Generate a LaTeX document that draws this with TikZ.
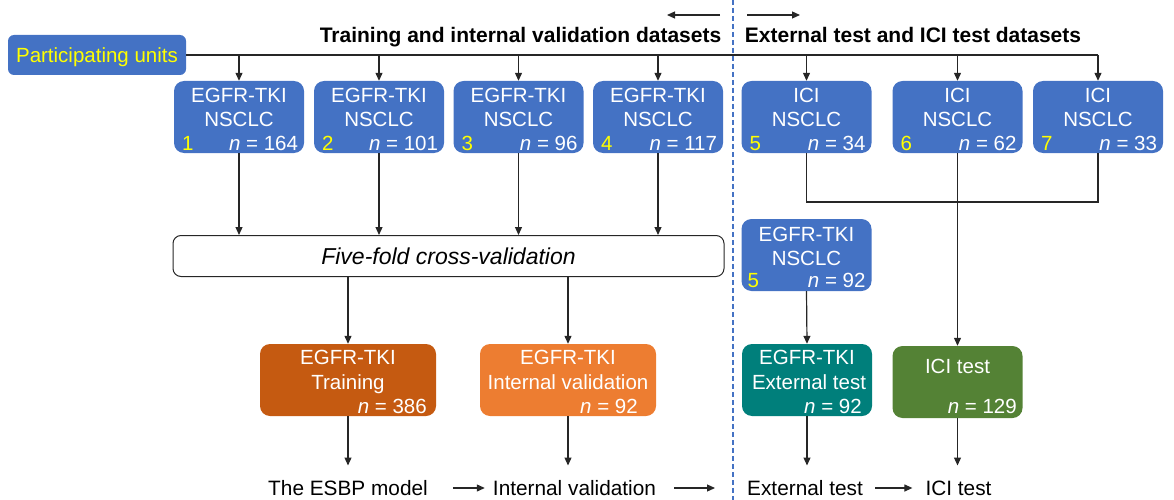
\documentclass[tikz,border=0pt]{standalone}
\usepackage{fontspec}
\setmainfont{Liberation Sans}
\usetikzlibrary{arrows.meta,calc}
\definecolor{unitblue}{HTML}{4472C4}
\definecolor{trainorange}{HTML}{C55A11}
\definecolor{valorange}{HTML}{ED7D31}
\definecolor{extteal}{HTML}{007F7B}
\definecolor{icigreen}{HTML}{548235}
\definecolor{numyellow}{HTML}{FFFF00}
\definecolor{linegray}{HTML}{262626}

\begin{document}
\begin{tikzpicture}[x=1pt,y=-1pt,
  box/.style={rounded corners=10pt, minimum width=130pt, minimum height=72pt, inner sep=0pt, draw=none},
  txt/.style={font=\fontsize{20.5}{24}\selectfont, text=white, inner sep=0pt, text height=14.6pt, text depth=0pt},
  numtxt/.style={txt, text=numyellow, anchor=west},
  ntxt/.style={txt, anchor=east},
  plaintxt/.style={txt, font=\fontsize{20.8}{24}\selectfont, text=black, inner xsep=0pt},
  title/.style={font=\fontsize{21}{25}\selectfont\bfseries, inner sep=0pt, text height=15pt, text depth=0pt},
  conn/.style={draw=linegray, line width=1.2pt},
  arr/.style={conn, -{Triangle[length=8pt,width=7pt]}},
  divider/.style={draw=unitblue, line width=1.4pt, dash pattern=on 5pt off 3pt}
]
\useasboundingbox (0,0) rectangle (1174,500);

% headings and direction arrows
\node[title] (tleft) at (520.5,35) {Training and internal validation datasets};
\node[title] (tright) at (913,35) {External test and ICI test datasets};
\coordinate (dirL0) at (720,15);
\coordinate (dirL1) at (667,15);
\coordinate (dirR0) at (747,15);
\coordinate (dirR1) at (800,15);
\draw[arr] (dirL0) -- (dirL1);
\draw[arr] (dirR0) -- (dirR1);

% vertical divider
\coordinate (divTop) at (733,0);
\coordinate (divBot) at (733,500);
\draw[divider] (divTop) -- (divBot);

% participating units
\node[box, fill=unitblue, minimum width=178pt, minimum height=40pt, rounded corners=6pt,
      font=\fontsize{20.5}{24}\selectfont, text=numyellow, text height=14.6pt, text depth=0pt]
      (part) at (97,55) {Participating units};

% data sources
\foreach \i/\cx/\kind/\nv in {1/239/EGFR-TKI/164, 2/379/EGFR-TKI/101, 3/518.5/EGFR-TKI/96,
    4/658/EGFR-TKI/117, 5/806.5/ICI/34, 6/957.5/ICI/62, 7/1098/ICI/33} {
  \node[box, fill=unitblue] (u\i) at (\cx,117) {};
  \node[txt] (u\i-a) at (\cx,95) {\kind};
  \node[txt] (u\i-b) at (\cx,119) {NSCLC};
  \node[ntxt] (u\i-n) at ($(u\i.east)+(-6,26)$) {\textit{n} = \nv};
  \node[numtxt] (u\i-k) at ($(u\i.west)+(8,26)$) {\i};
}

\draw[conn] (part.east) -- (part.east -| u7.north);
\foreach \i in {1,...,7} {
  \draw[arr] (part.east -| u\i.north) -- (u\i.north);
}

% cross-validation
\node[draw=linegray, line width=1pt, rounded corners=8pt, minimum width=551pt, minimum height=41pt,
      inner sep=0pt, font=\fontsize{23}{27}\selectfont\itshape, text height=16.4pt, text depth=0pt]
      (ff) at (448.5,256) {Five-fold cross-validation};
\foreach \i in {1,...,4} {
  \draw[arr] (u\i.south) -- (u\i.south |- ff.north);
}

% EGFR-TKI external source
\node[box, fill=unitblue] (v5) at (806.5,255) {};
\node[txt] (v5-a) at (806.5,234) {EGFR-TKI};
\node[txt] (v5-b) at (806.5,258.5) {NSCLC};
\node[ntxt] (v5-n) at ($(v5.east)+(-6,25)$) {\textit{n} = 92};
\node[numtxt] (v5-k) at ($(v5.west)+(6,25)$) {5};

% cohorts
\node[box, fill=trainorange, minimum width=176pt] (train) at (348,380) {};
\node[txt] (train-a) at (348,357) {EGFR-TKI};
\node[txt] (train-b) at (348,382.5) {Training};
\node[ntxt] (train-n) at (427,406) {\textit{n} = 386};

\node[box, fill=valorange, minimum width=176pt] (intval) at (568,380) {};
\node[txt] (intval-a) at (568,357) {EGFR-TKI};
\node[txt] (intval-b) at (568,382.5) {Internal validation};
\node[ntxt] (intval-n) at (638,406) {\textit{n} = 92};

\node[box, fill=extteal] (ext) at (807,380) {};
\node[txt] (ext-a) at (807,357) {EGFR-TKI};
\node[txt] (ext-b) at (809,382.5) {External test};
\node[ntxt] (ext-n) at (862,406) {\textit{n} = 92};

\node[box, fill=icigreen] (ici) at (957.5,382) {};
\node[txt] (ici-a) at (957.5,366) {ICI test};
\node[ntxt] (ici-n) at (1017,406) {\textit{n} = 129};

% connectors between stages
\draw[arr] (ff.south -| train.north) -- (train.north);
\draw[arr] (ff.south -| intval.north) -- (intval.north);
\coordinate (iciJoin) at (1098,202);
\draw[conn] (u5.south) |- (iciJoin) -- (u7.south);
\draw[arr] (u6.south) -- (ici.north);
\draw[arr] (v5.south) -- (ext.north);

% outcomes
\node[plaintxt] (esbp) at (348,488) {The ESBP model};
\node[plaintxt] (ivtxt) at (574.5,488) {Internal validation};
\node[plaintxt] (extxt) at (805,488) {External test};
\node[plaintxt] (icitxt) at (958.5,488) {ICI test};

\draw[arr, shorten >=15pt] (train.south) -- (train.south |- esbp.north);
\draw[arr, shorten >=15pt] (intval.south) -- (intval.south |- ivtxt.north);
\draw[arr, shorten >=15pt] (ext.south) -- (ext.south |- extxt.north);
\draw[arr, shorten >=15pt] (ici.south) -- (ici.south |- icitxt.north);

\coordinate (toExt) at (715,488);
\draw[arr] ([xshift=25pt]esbp.east) -- ([xshift=-8pt]ivtxt.west);
\draw[arr] ([xshift=18pt]ivtxt.east) -- (toExt);
\draw[arr] ([xshift=12pt]extxt.east) -- ([xshift=-13pt]icitxt.west);
\end{tikzpicture}
\end{document}
